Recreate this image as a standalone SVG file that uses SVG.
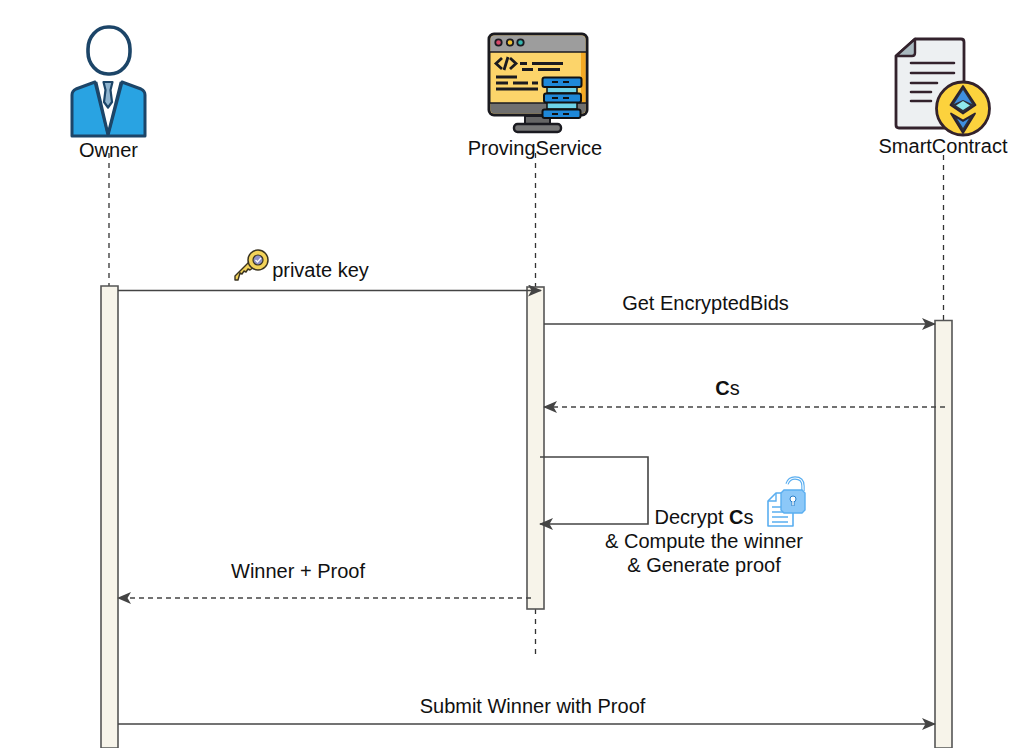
<svg xmlns="http://www.w3.org/2000/svg" width="1013" height="748" viewBox="0 0 1013 748">
<style>
text{font-family:"Liberation Sans",Arial,sans-serif;font-size:20px;fill:#111;text-anchor:middle}
.life{fill:none;stroke:#333;stroke-width:1.300;stroke-dasharray:5 5}
.act{fill:#f7f4ea;stroke:#555;stroke-width:1.600}
.msg{fill:none;stroke:#444;stroke-width:1.600;marker-end:url(#a)}
.dash{stroke-dasharray:5 4}
.k{stroke:#1a1a20;stroke-width:2.800;fill:none}
.b{stroke:#111;stroke-width:2;fill:#1e88d8}
.ld{stroke:#5aaef0;stroke-width:1.600;fill:#fff;stroke-linejoin:round}
</style>
<defs><marker id="a" viewBox="0 0 14 12" refX="13" refY="6" markerWidth="14" markerHeight="12" markerUnits="userSpaceOnUse" orient="auto"><path d="M0 0L14 6L0 12L3.500 6Z" fill="#444"/></marker></defs>
<rect width="1013" height="748" fill="#fff"/>
<g id="lifelines">
<path class="life" d="M109 153V286"/>
<path class="life" d="M535.500 153V287M535.500 609V655"/>
<path class="life" d="M943.500 155V320"/>
</g>
<g id="activations">
<path class="act" d="M101 286H118V748H101Z"/>
<rect class="act" x="527" y="287" width="17" height="322"/>
<path class="act" d="M935 320.500H952V748H935Z"/>
</g>
<g id="connectors">
<path class="msg" d="M118 290.500H541"/>
<path class="msg" d="M544 324H935"/>
<path class="msg dash" d="M945 407H544"/>
<path class="msg" d="M540 457H648V524H540"/>
<path class="msg dash" d="M531 598H118"/>
<path class="msg" d="M118 724H935"/>
</g>
<g id="owner">
<rect x="88" y="27" width="42" height="47" rx="20" ry="22" fill="#fff" stroke="#1c4568" stroke-width="3.600"/>
<path d="M72 136V95Q72 91 76 89L95 82L108 135L122 82L141 89Q145 91 145 95V136Z" fill="#29a3e2" stroke="#1c4568" stroke-width="3" stroke-linejoin="round"/>
<path d="M97 83L108 130L120 83Z" fill="#fff"/>
<path d="M96 82L108 134L121 82" fill="none" stroke="#1c4568" stroke-width="2.800"/>
<path d="M103.500 82H112.500L110.500 90L112 102L108 107.500L104 102L105.500 90Z" fill="#8fb4cf" stroke="#1c4568" stroke-width="2.200" stroke-linejoin="round"/>
<text x="108.500" y="156.500">Owner</text>
</g>
<g id="provingservice">
<rect x="489" y="34" width="98" height="81" rx="5" fill="#fcd46a" stroke="#1a1a20" stroke-width="3"/>
<path d="M490.500 52V40Q490.500 35.500 495 35.500H581Q585.500 35.500 585.500 40V52Z" fill="#9d9d9d"/>
<path d="M581 52H585.500V103H581Z" fill="#f4a924"/>
<path d="M490 52H586" stroke="#1a1a20" stroke-width="1.500"/>
<path d="M490.500 103H585.500V109Q585.500 113.500 581 113.500H495Q490.500 113.500 490.500 109Z" fill="#6f6f6f"/>
<path d="M490 103H586" stroke="#1a1a20" stroke-width="1.500"/>
<circle cx="498.500" cy="42.500" r="3.200" fill="#d84a6a" stroke="#1a1a20" stroke-width="1.800"/>
<circle cx="510" cy="42.500" r="3.200" fill="#f2c230" stroke="#1a1a20" stroke-width="1.800"/>
<circle cx="520.500" cy="42.500" r="3.200" fill="#35b7b0" stroke="#1a1a20" stroke-width="1.800"/>
<path d="M525 116V124H550V116Z" fill="#666" stroke="#1a1a20" stroke-width="2"/>
<rect x="514" y="124" width="47" height="8" rx="3.500" fill="#777" stroke="#1a1a20" stroke-width="2.400"/>
<path class="k" d="M502 58L496 63.500L502 69M510 58L516 63.500L510 69M508 57L504 70M520 63.500H527M532 63.500H563M522 69.500H533M538 69.500H560M496 77H517M496 83H508M513 83H528M532 83H538M496 89H538"/>
<path d="M547 87H577V93H547ZM547 102H577V109H547Z" fill="#6dd3e8" stroke="#111" stroke-width="1.500"/>
<rect x="542.500" y="77.500" width="39" height="9.500" rx="2" class="b"/>
<rect x="544" y="93.500" width="37" height="9" rx="2" class="b"/>
<rect x="542.500" y="109.500" width="38" height="8.500" rx="2" class="b"/>
<path d="M552 82H558M563 82H569M552 98H558M563 98H569M552 114H558M563 114H569" stroke="#111" stroke-width="2"/>
<text x="535" y="154.500">ProvingService</text>
</g>
<g id="smartcontract">
<path d="M896 56L915 39H961Q964 39 964 42V125Q964 128 961 128H899Q896 128 896 125Z" fill="#edf0f2" stroke="#33222c" stroke-width="2.800" stroke-linejoin="round"/>
<path d="M896 56H912Q915 56 915 53V39Z" fill="#a9b9bf" stroke="#33222c" stroke-width="2.400" stroke-linejoin="round"/>
<path d="M911 63H954M911 73H954M911 83H937M911 92H931M911 101H931" stroke="#33222c" stroke-width="2.600" stroke-linecap="round" fill="none"/>
<circle cx="963" cy="108.500" r="26.500" fill="#fcd23d" stroke="#33222c" stroke-width="2.800"/>
<path d="M963 86L975.500 105L963 113.500L950.500 105Z" fill="#2f3038" stroke="#2a2230" stroke-width="1.800" stroke-linejoin="round"/>
<path d="M963 90L972 104L963 100L954 104Z" fill="#3f8fe0"/>
<path d="M963 101L970 105.500L963 110L956 105.500Z" fill="#8fe8ee"/>
<path d="M951 113.500L963 120.500L975 113.500L963 133Z" fill="#2f3038" stroke="#2a2230" stroke-width="1.800" stroke-linejoin="round"/>
<path d="M957 118.500L963 122L969 118.500L963 128Z" fill="#3f8fe0"/>
<text x="943" y="152.500">SmartContract</text>
</g>
<g id="label-private-key">
<path d="M235 276L249 262L254 267L250 270L248 269L246 272L244 271L242 274L240 273L238 280L235 280Z" fill="#f3d35a" stroke="#3a3320" stroke-width="1.400" stroke-linejoin="round"/>
<circle cx="258" cy="260" r="10" fill="#f3d35a" stroke="#3a3320" stroke-width="1.500"/>
<circle cx="258" cy="260" r="5" fill="#8e90c8" stroke="#3a3320" stroke-width="1.200"/>
<path d="M255.500 260L257.500 262L261 258" fill="none" stroke="#fff" stroke-width="1.300"/>
<text x="320.500" y="276.500">private key</text>
</g>
<g id="labels">
<text x="705.500" y="309.500">Get EncryptedBids</text>
<text x="727.500" y="394.500"><tspan font-weight="bold">C</tspan>s</text>
<text x="704" y="523.500"><tspan>Decrypt </tspan><tspan font-weight="bold">C</tspan><tspan>s</tspan></text>
<text x="704" y="547.500">&amp; Compute the winner</text>
<text x="704" y="571.500">&amp; Generate proof</text>
<text x="298" y="577.500">Winner + Proof</text>
<text x="532.500" y="712.500">Submit Winner with Proof</text>
</g>
<g id="decrypt-icon">
<path class="ld" d="M768 501L776 493H793V526H768Z"/>
<path d="M768 501H776V493" fill="none" stroke="#5aaef0" stroke-width="1.400"/>
<path d="M772 507H781M772 512H788M772 517H788M772 522H788" stroke="#5aaef0" stroke-width="1.400"/>
<path d="M787 484Q789 478 795 478Q803 478 803 486V491" fill="none" stroke="#5aaef0" stroke-width="3.400"/>
<path d="M787 484Q789 478 795 478Q803 478 803 486V491" fill="none" stroke="#fff" stroke-width="1.200"/>
<path d="M784 490H802L805 493V510L802 513H784L781 510V493Z" fill="#8cc8f8" stroke="#5aaef0" stroke-width="1.400"/>
<circle cx="793" cy="499" r="3" fill="#fff" stroke="#2a7fc8"/>
<path d="M793 501V506" stroke="#2a7fc8" stroke-width="3"/>
<path d="M793 501V505.500" stroke="#fff" stroke-width="1.400"/>
</g>
</svg>
